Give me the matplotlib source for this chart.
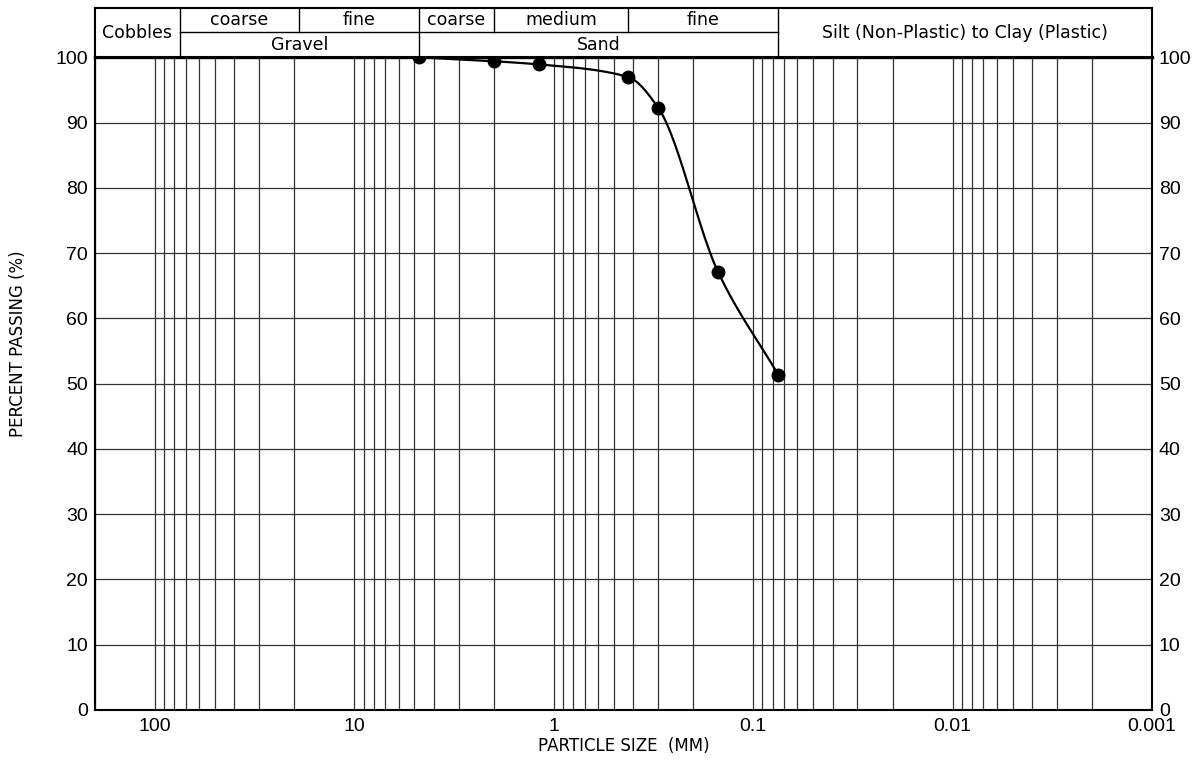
import numpy as np
import matplotlib
matplotlib.use("Agg")
import matplotlib.pyplot as plt
from matplotlib.ticker import LogLocator, NullFormatter

# sieve results
sieve_mm = [4.75, 2.0, 1.18, 0.425, 0.3, 0.15, 0.075]
percent_passing = [100.0, 99.4, 98.9, 97.0, 92.3, 67.1, 51.4]

y_ticks = list(range(0, 101, 10))
x_tick_values = [100, 10, 1, 0.1, 0.01, 0.001]
x_tick_labels = ["100", "10", "1", "0.1", "0.01", "0.001"]
x_limits = (200, 0.001)

# header (USCS) boundaries in mm
full_bounds = [75, 4.75, 0.075]
top_bounds = [19, 2.0, 0.425]
top_labels = [("coarse", 75, 19), ("fine", 19, 4.75), ("coarse", 4.75, 2.0),
              ("medium", 2.0, 0.425), ("fine", 0.425, 0.075)]
bottom_labels = [("Gravel", 75, 4.75), ("Sand", 4.75, 0.075)]
full_labels = [("Cobbles", 200, 75),
               ("Silt (Non-Plastic) to Clay (Plastic)", 0.075, 0.001)]


def pchip(x, y, xn):
    x = np.asarray(x, float)
    y = np.asarray(y, float)
    h = np.diff(x)
    d = np.diff(y) / h
    m = np.zeros_like(y)
    m[0], m[-1] = d[0], d[-1]
    for k in range(1, len(x) - 1):
        if d[k - 1] * d[k] > 0:
            w1 = 2 * h[k] + h[k - 1]
            w2 = h[k] + 2 * h[k - 1]
            m[k] = (w1 + w2) / (w1 / d[k - 1] + w2 / d[k])
    idx = np.clip(np.searchsorted(x, xn) - 1, 0, len(x) - 2)
    t = (xn - x[idx]) / h[idx]
    h00 = 2 * t**3 - 3 * t**2 + 1
    h10 = t**3 - 2 * t**2 + t
    h01 = -2 * t**3 + 3 * t**2
    h11 = t**3 - t**2
    return h00 * y[idx] + h10 * h[idx] * m[idx] + h01 * y[idx + 1] + h11 * h[idx] * m[idx + 1]


def gmean(a, b):
    return np.sqrt(a * b)


fig = plt.figure(figsize=(12, 7.59), dpi=100)
left, right = 95 / 1200, 1152 / 1200
bottom, top = (759 - 710) / 759, (759 - 57.3) / 759
head_top = (759 - 8.3) / 759

ax = fig.add_axes([left, bottom, right - left, top - bottom])
ax.set_xscale("log")
ax.set_xlim(*x_limits)
ax.set_ylim(0, 100)

ax.xaxis.set_minor_locator(LogLocator(base=10, subs=np.arange(1, 10), numticks=50))
ax.xaxis.set_minor_formatter(NullFormatter())
ax.set_xticks(x_tick_values)
ax.set_xticklabels(x_tick_labels)
ax.set_yticks(y_ticks)
ax.grid(True, which="both", axis="x", color="#333333", lw=0.9)
ax.grid(True, which="major", axis="y", color="#333333", lw=0.9)
ax.tick_params(which="both", length=0)
ax.tick_params(axis="y", labelright=True, labelsize=14, pad=5)
ax.tick_params(axis="x", labelsize=14, pad=6)
for lab in ax.get_xticklabels() + ax.get_yticklabels():
    lab.set_fontfamily("Liberation Sans")
for lab in ax.yaxis.get_ticklabels(which="major"):
    lab.set_fontfamily("Liberation Sans")
for s in ["left", "right", "bottom"]:
    ax.spines[s].set_linewidth(1.5)
ax.spines["top"].set_linewidth(2.4)

# smooth gradation curve in log space
u = -np.log10(sieve_mm)
un = np.linspace(u[0], u[-1], 300)
ax.plot(10 ** (-un), pchip(u, percent_passing, un), color="black", lw=1.6,
        clip_on=False, zorder=3)
ax.plot(sieve_mm, percent_passing, "o", color="black", ms=9, clip_on=False, zorder=4)

# header classification table
hx = fig.add_axes([left, top, right - left, head_top - top])
hx.set_xscale("log")
hx.set_xlim(*x_limits)
hx.set_ylim(0, 1)
hx.set_xticks([])
hx.set_yticks([])
hx.minorticks_off()
for s in hx.spines.values():
    s.set_linewidth(1.5)
mid = (57.3 - 31.7) / (57.3 - 8.3)
hx.plot([75, 0.075], [mid, mid], color="black", lw=1)
for b in full_bounds:
    hx.plot([b, b], [0, 1], color="black", lw=1)
for b in top_bounds:
    hx.plot([b, b], [mid, 1], color="black", lw=1)
hfont = dict(family="DejaVu Sans", fontsize=12.5, ha="center", va="center")
for txt, a, b in top_labels:
    hx.text(gmean(a, b), (mid + 1) / 2 + 0.01, txt, **hfont)
for txt, a, b in bottom_labels:
    hx.text(gmean(a, b), mid / 2, txt, **hfont)
for txt, a, b in full_labels:
    hx.text(gmean(a, b), 0.5, txt, **hfont)

fig.text(623.5 / 1200, (759 - 746) / 759, "PARTICLE SIZE  (MM)", ha="center",
         va="center", fontsize=12, family="DejaVu Sans")
fig.text(18 / 1200, (759 - 344) / 759, "PERCENT PASSING (%)", ha="center",
         va="center", rotation=90, fontsize=12, family="DejaVu Sans")

fig.savefig("out.png", dpi=100)
